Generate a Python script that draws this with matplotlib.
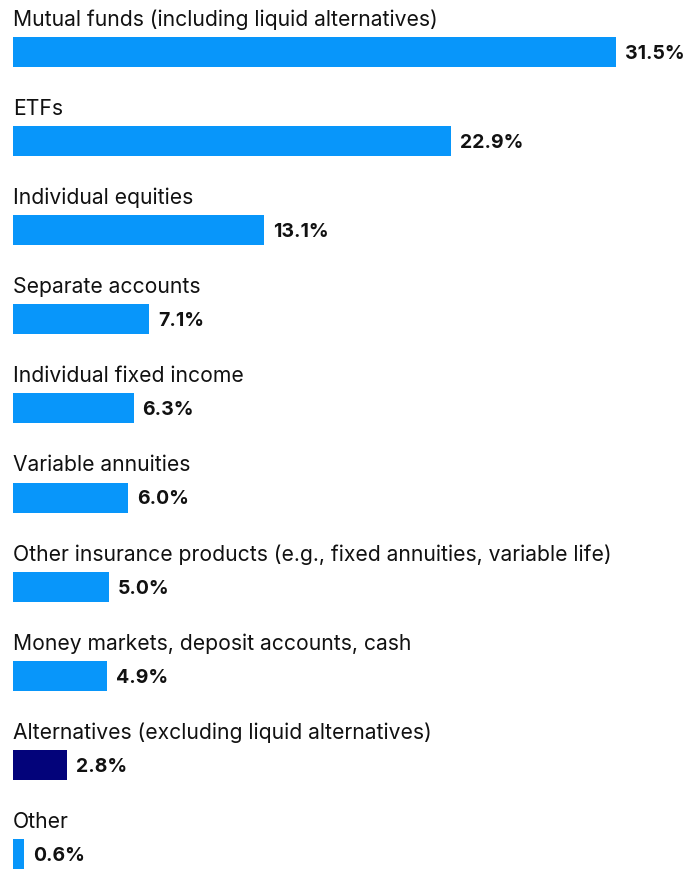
import matplotlib
matplotlib.use("Agg")
import matplotlib.pyplot as plt

categories = [
    "Mutual funds (including liquid alternatives)",
    "ETFs",
    "Individual equities",
    "Separate accounts",
    "Individual fixed income",
    "Variable annuities",
    "Other insurance products (e.g., fixed annuities, variable life)",
    "Money markets, deposit accounts, cash",
    "Alternatives (excluding liquid alternatives)",
    "Other",
]
values = [31.5, 22.9, 13.1, 7.1, 6.3, 6.0, 5.0, 4.9, 2.8, 0.6]
value_labels = ["31.5%", "22.9%", "13.1%", "7.1%", "6.3%", "6.0%", "5.0%", "4.9%", "2.8%", "0.6%"]

blue = "#0896fa"
navy = "#03037a"
colors = [blue] * len(values)
colors[8] = navy

plt.rcParams["font.family"] = ["Inter", "DejaVu Sans"]

fig = plt.figure(figsize=(7, 8.7), dpi=100)
ax = fig.add_axes([0, 0, 1, 1])

px = 603 / 31.5  # pixels per percentage point
ax.set_xlim(-13 / px, (700 - 13) / px)
ax.set_ylim(870, 0)
ax.axis("off")

for i, (cat, v, lab, c) in enumerate(zip(categories, values, value_labels, colors)):
    yc = 53 + 89.1 * i
    ax.barh(yc, v, height=30, left=0, color=c)
    ax.text(0, yc - 33, cat, fontsize=15.2, color="#111111", va="center", ha="left")
    ax.text(v + 9 / px, yc + 1, lab, fontsize=14, fontweight="bold",
            color="#111111", va="center", ha="left")

fig.savefig("out.png", dpi=100)
